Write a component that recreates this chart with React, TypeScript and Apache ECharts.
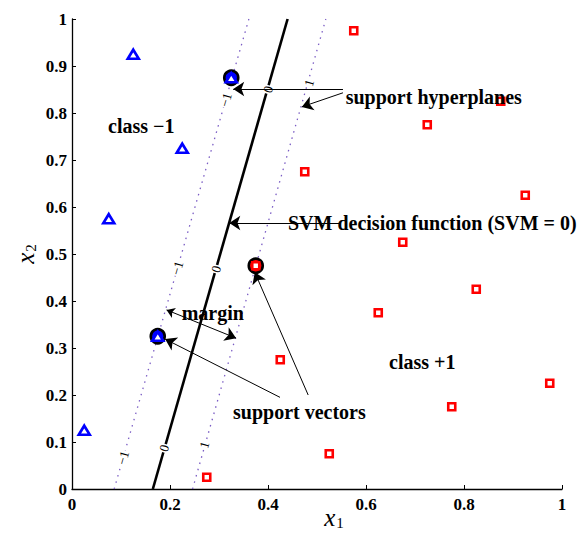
import React, { useEffect, useRef } from "react";
import * as echarts from "echarts";

// class -1 (blue triangles)
const classNeg: number[][] = [
  [0.125, 0.925], [0.225, 0.725], [0.075, 0.575], [0.325, 0.875], [0.175, 0.325], [0.025, 0.125],
];
// class +1 (red squares)
const classPos: number[][] = [
  [0.575, 0.975], [0.875, 0.825], [0.725, 0.775], [0.475, 0.675], [0.925, 0.625], [0.675, 0.525],
  [0.375, 0.475], [0.825, 0.425], [0.625, 0.375], [0.425, 0.275], [0.975, 0.225], [0.775, 0.175],
  [0.525, 0.075], [0.275, 0.025],
];
const supportNeg: number[][] = [[0.325, 0.875], [0.175, 0.325]];
const supportPos: number[][] = [[0.375, 0.475]];

const decisionLine: number[][] = [[0.165, 0], [0.44, 1]];
const hyperNeg: number[][] = [[0.086, 0], [0.361, 1]];
const hyperPos: number[][] = [[0.246, 0], [0.518, 1]];

const contourLabels: [number, number, string][] = [
  [0.4, 0.85, "0"], [0.294, 0.468, "0"], [0.188, 0.087, "0"],
  [0.314, 0.828, "−1"], [0.215, 0.47, "−1"], [0.104, 0.066, "−1"],
  [0.484, 0.864, "1"], [0.27, 0.094, "1"],
];

const texts: [number, number, string][] = [
  [0.5586, 0.834, "support hyperplanes"],
  [0.4408, 0.5666, "SVM decision function (SVM = 0)"],
  [0.0735, 0.772, "class −1"],
  [0.647, 0.27, "class +1"],
  [0.2239, 0.375, "margin"],
  [0.3286, 0.1645, "support vectors"],
];

const arrows: number[][][] = [
  [[0.553, 0.851], [0.329, 0.851]],
  [[0.553, 0.843], [0.469, 0.813]],
  [[0.5449, 0.566], [0.321, 0.566]],
  [[0.4245, 0.195], [0.19, 0.319]],
  [[0.482, 0.2], [0.373, 0.461]],
];
const doubleArrows: number[][][] = [[[0.193, 0.381], [0.335, 0.321]]];

const xTicks = { min: 0, max: 1, interval: 0.2 };
const yTicks = { min: 0, max: 1, interval: 0.1 };

const FONT = "Liberation Serif";

export default function App() {
  const ref = useRef<HTMLDivElement>(null);
  useEffect(() => {
    if (!ref.current) return;
    const chart = echarts.init(ref.current, undefined, { renderer: "svg" });
    const hyperStyle = { color: "#7a5cc4", width: 1.3, type: [1.5, 5] as any };
    const nameRich = {
      a: { fontFamily: FONT, fontStyle: "italic", fontSize: 25, color: "#000", lineHeight: 24 },
      b: { fontFamily: FONT, fontSize: 15, color: "#000", padding: [11, 0, 0, 1], lineHeight: 13 },
    };
    chart.setOption({
      animation: false,
      grid: { left: 72, right: 23, top: 19, bottom: 44, containLabel: false, outerBoundsMode: "none" },
      xAxis: {
        type: "value",
        ...xTicks,
        name: "{a|x}{b|1}",
        nameLocation: "middle",
        nameGap: 16,
        nameMoveOverlap: false,
        nameTextStyle: { padding: [0, 0, 0, 34], rich: nameRich },
        axisLine: { lineStyle: { color: "#000", width: 1.3 } },
        axisTick: { inside: true, length: 4, lineStyle: { color: "#000" } },
        axisLabel: { fontFamily: FONT, fontWeight: 900, fontSize: 17, color: "#000", margin: 7 },
        splitLine: { show: false },
      },
      yAxis: {
        type: "value",
        ...yTicks,
        name: "{a|x}{b|2}",
        nameLocation: "middle",
        nameGap: 35,
        nameMoveOverlap: false,
        nameTextStyle: { rich: nameRich },
        axisLine: { lineStyle: { color: "#000", width: 1.3 } },
        axisTick: { inside: true, length: 4, lineStyle: { color: "#000" } },
        axisLabel: { fontFamily: FONT, fontWeight: 900, fontSize: 17, color: "#000", margin: 5 },
        splitLine: { show: false },
      },
      series: [
        { type: "line", data: hyperNeg, symbol: "none", lineStyle: hyperStyle, z: 1 },
        { type: "line", data: hyperPos, symbol: "none", lineStyle: hyperStyle, z: 1 },
        { type: "line", data: decisionLine, symbol: "none", lineStyle: { color: "#000", width: 2.6 }, z: 2 },
        {
          type: "scatter",
          data: contourLabels.map((d) => ({ value: [d[0], d[1]], name: d[2] })),
          symbolSize: 0,
          itemStyle: { opacity: 1 },
          z: 3,
          label: {
            show: true,
            position: "inside",
            formatter: (p: any) => p.name,
            rotate: 74,
            fontFamily: FONT,
            fontSize: 13,
            color: "#000",
            backgroundColor: "#fff",
            padding: [0, 1],
          },
        },
        {
          type: "lines",
          coordinateSystem: "cartesian2d",
          symbol: ["none", "arrow"],
          symbolSize: [8, 11],
          lineStyle: { color: "#000", width: 1, opacity: 1 },
          data: arrows.map((c) => ({ coords: c })),
          z: 4,
        },
        {
          type: "lines",
          coordinateSystem: "cartesian2d",
          symbol: ["arrow", "arrow"],
          symbolSize: [8, 11],
          lineStyle: { color: "#000", width: 1, opacity: 1 },
          data: doubleArrows.map((c) => ({ coords: c })),
          z: 4,
        },
        {
          type: "scatter",
          data: supportNeg,
          symbol: "circle",
          symbolSize: 14,
          itemStyle: { color: "#0000ff", borderColor: "#000", borderWidth: 2.6, opacity: 1 },
          z: 5,
        },
        {
          type: "scatter",
          data: supportPos,
          symbol: "circle",
          symbolSize: 14,
          itemStyle: { color: "#ff0000", borderColor: "#000", borderWidth: 2.6, opacity: 1 },
          z: 5,
        },
        {
          type: "scatter",
          data: classNeg,
          symbol: "triangle",
          symbolSize: [11, 9],
          itemStyle: { color: "#fff", borderColor: "#0000ff", borderWidth: 2.6, opacity: 1 },
          z: 6,
        },
        {
          type: "scatter",
          data: classPos,
          symbol: "rect",
          symbolSize: 7,
          itemStyle: { color: "#fff", borderColor: "#ff0000", borderWidth: 2.6, opacity: 1 },
          z: 6,
        },
        {
          type: "scatter",
          data: texts.map((d) => ({ value: [d[0], d[1]], name: d[2] })),
          symbolSize: 0,
          itemStyle: { opacity: 1 },
          z: 7,
          label: {
            show: true,
            position: "right",
            distance: 0,
            formatter: (p: any) => p.name,
            fontFamily: FONT,
            fontWeight: 900,
            fontSize: 20,
            color: "#000",
          },
        },
      ],
    });
    return () => chart.dispose();
  }, []);
  return <div ref={ref} style={{ width: 585, height: 533, position: "absolute", left: 0, top: 0 }} />;
}
